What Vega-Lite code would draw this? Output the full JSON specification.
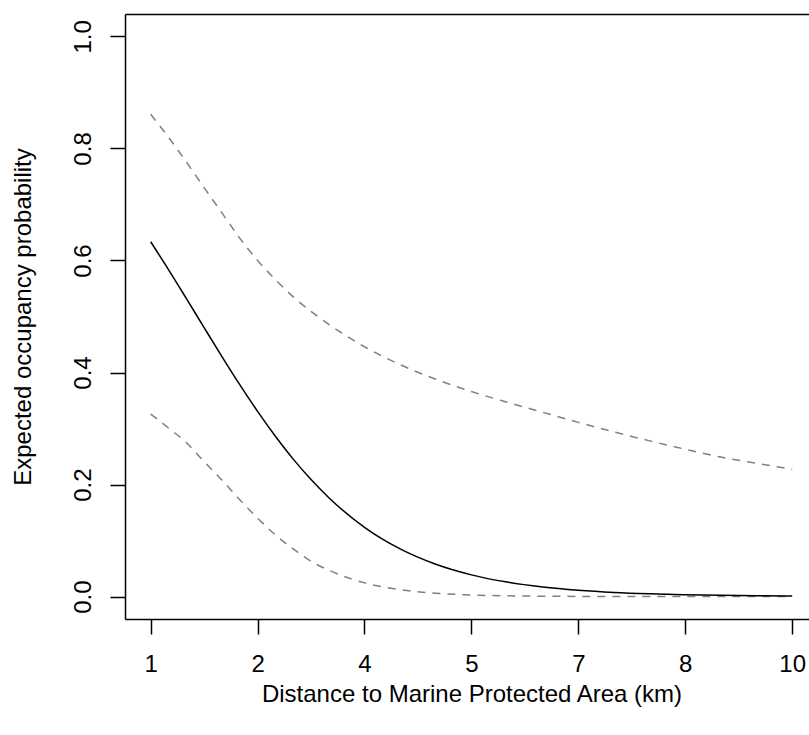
{
  "$schema": "https://vega.github.io/schema/vega-lite/v6.json",
  "autosize": {"type": "none"},
  "padding": {"left": 125, "top": 14, "right": 0, "bottom": 116},
  "width": 684,
  "height": 605,
  "background": "white",
  "config": {
    "view": {"stroke": null},
    "axis": {
      "grid": false,
      "domainColor": "black",
      "domainWidth": 1.5,
      "tickColor": "black",
      "tickWidth": 1.5,
      "tickSize": 15,
      "labelFont": "Liberation Sans",
      "labelFontSize": 24,
      "labelColor": "black",
      "labelFlush": false,
      "labelOverlap": false,
      "titleFont": "Liberation Sans",
      "titleFontSize": 24,
      "titleFontWeight": "normal",
      "titleColor": "black"
    }
  },
  "data": {
    "values": [
      {"distance": 1.0, "estimate": 0.6334, "lower": 0.326, "upper": 0.861},
      {"distance": 1.25, "estimate": 0.5838, "lower": 0.301, "upper": 0.82},
      {"distance": 1.5, "estimate": 0.5323, "lower": 0.275, "upper": 0.776},
      {"distance": 1.75, "estimate": 0.4802, "lower": 0.241, "upper": 0.73},
      {"distance": 2.0, "estimate": 0.4285, "lower": 0.208, "upper": 0.685},
      {"distance": 2.25, "estimate": 0.3783, "lower": 0.173, "upper": 0.64},
      {"distance": 2.5, "estimate": 0.3306, "lower": 0.14, "upper": 0.6},
      {"distance": 2.75, "estimate": 0.2862, "lower": 0.11, "upper": 0.566},
      {"distance": 3.0, "estimate": 0.2454, "lower": 0.085, "upper": 0.535},
      {"distance": 3.25, "estimate": 0.2089, "lower": 0.063, "upper": 0.509},
      {"distance": 3.5, "estimate": 0.1765, "lower": 0.047, "upper": 0.486},
      {"distance": 4.0, "estimate": 0.1236, "lower": 0.0245, "upper": 0.446},
      {"distance": 4.5, "estimate": 0.0851, "lower": 0.0125, "upper": 0.414},
      {"distance": 5.0, "estimate": 0.0577, "lower": 0.006, "upper": 0.388},
      {"distance": 5.5, "estimate": 0.0388, "lower": 0.0029, "upper": 0.366},
      {"distance": 6.0, "estimate": 0.0259, "lower": 0.0014, "upper": 0.347},
      {"distance": 6.5, "estimate": 0.0172, "lower": 0.0007, "upper": 0.329},
      {"distance": 7.0, "estimate": 0.0114, "lower": 0.0003, "upper": 0.311},
      {"distance": 7.5, "estimate": 0.0075, "lower": 0.0001, "upper": 0.294},
      {"distance": 8.0, "estimate": 0.005, "lower": 0.0001, "upper": 0.278},
      {"distance": 8.5, "estimate": 0.0033, "lower": 0.0, "upper": 0.263},
      {"distance": 9.0, "estimate": 0.0022, "lower": 0.0, "upper": 0.249},
      {"distance": 9.5, "estimate": 0.0014, "lower": 0.0, "upper": 0.238},
      {"distance": 10.0, "estimate": 0.0009, "lower": 0.0, "upper": 0.227}
    ]
  },
  "layer": [
    {
      "mark": {"type": "line", "color": "#808080", "strokeDash": [8, 7], "strokeWidth": 1.5, "interpolate": "monotone"},
      "encoding": {
        "x": {
          "field": "distance", "type": "quantitative",
          "scale": {"domain": [0.64, 10.236], "nice": false, "zero": false},
          "axis": {"orient": "top", "labels": false, "ticks": false, "title": null, "domain": true}
        },
        "y": {
          "field": "upper", "type": "quantitative",
          "scale": {"domain": [-0.04, 1.04], "nice": false, "zero": false},
          "axis": {
            "values": [0, 0.2, 0.4, 0.6, 0.8, 1.0], "format": ".1f",
            "labelAngle": 270, "labelAlign": "center", "labelBaseline": "alphabetic", "labelPadding": 20,
            "title": "Expected occupancy probability", "titleAngle": 270, "titleAlign": "center",
            "titleBaseline": "alphabetic", "titleX": -95, "titleY": 302.5
          }
        }
      }
    },
    {
      "mark": {"type": "line", "color": "#808080", "strokeDash": [8, 7], "strokeWidth": 1.5, "interpolate": "monotone"},
      "encoding": {
        "x": {
          "field": "distance", "type": "quantitative",
          "scale": {"domain": [0.64, 10.236], "nice": false, "zero": false},
          "axis": null
        },
        "y": {
          "field": "lower", "type": "quantitative",
          "scale": {"domain": [-0.04, 1.04], "nice": false, "zero": false},
          "axis": {
            "values": [0, 0.2, 0.4, 0.6, 0.8, 1.0], "format": ".1f",
            "labelAngle": 270, "labelAlign": "center", "labelBaseline": "alphabetic", "labelPadding": 20,
            "title": "Expected occupancy probability", "titleAngle": 270, "titleAlign": "center",
            "titleBaseline": "alphabetic", "titleX": -95, "titleY": 302.5
          }
        }
      }
    },
    {
      "mark": {"type": "line", "color": "black", "strokeWidth": 1.5, "interpolate": "monotone"},
      "encoding": {
        "x": {
          "field": "distance", "type": "quantitative",
          "scale": {"domain": [0.64, 10.236], "nice": false, "zero": false},
          "axis": {
            "values": [1, 2.5, 4, 5.5, 7, 8.5, 10],
            "labelExpr": "floor(datum.value)",
            "labelAlign": "center", "labelBaseline": "alphabetic", "labelPadding": 37,
            "title": "Distance to Marine Protected Area (km)",
            "titleBaseline": "alphabetic", "titleAlign": "center", "titleX": 346.5, "titleY": 82
          }
        },
        "y": {
          "field": "estimate", "type": "quantitative",
          "scale": {"domain": [-0.04, 1.04], "nice": false, "zero": false},
          "axis": {
            "values": [0, 0.2, 0.4, 0.6, 0.8, 1.0], "format": ".1f",
            "labelAngle": 270, "labelAlign": "center", "labelBaseline": "alphabetic", "labelPadding": 20,
            "title": "Expected occupancy probability", "titleAngle": 270, "titleAlign": "center",
            "titleBaseline": "alphabetic", "titleX": -95, "titleY": 302.5
          }
        }
      }
    }
  ],
  "resolve": {"axis": {"x": "independent"}}
}
